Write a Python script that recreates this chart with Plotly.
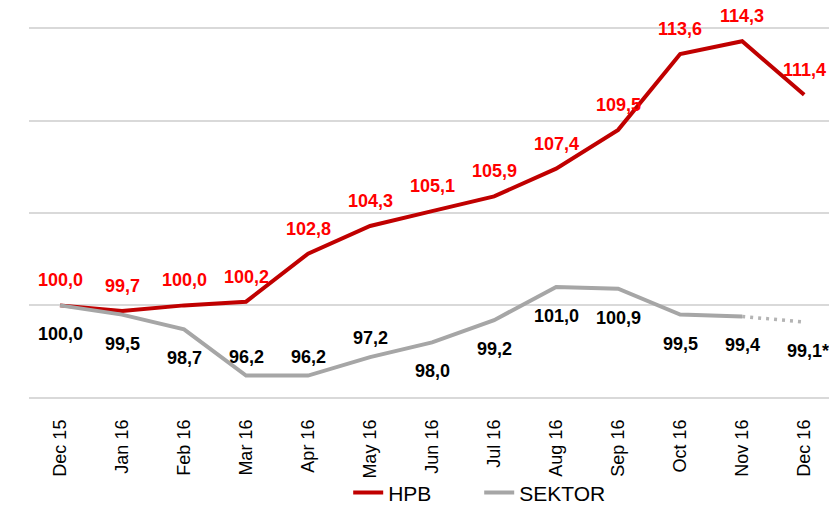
import plotly.graph_objects as go

# data
months = ["Dec 15", "Jan 16", "Feb 16", "Mar 16", "Apr 16", "May 16", "Jun 16",
          "Jul 16", "Aug 16", "Sep 16", "Oct 16", "Nov 16", "Dec 16"]
hpb = [100.0, 99.7, 100.0, 100.2, 102.8, 104.3, 105.1, 105.9, 107.4, 109.5, 113.6, 114.3, 111.4]
sektor = [100.0, 99.5, 98.7, 96.2, 96.2, 97.2, 98.0, 99.2, 101.0, 100.9, 99.5, 99.4, 99.1]
# where the SEKTOR labels sit: below the line, except three above it
sektor_side = ["below", "below", "below", "above", "above", "above", "below",
               "below", "below", "below", "below", "below", "below"]

RED_LINE = "#C00000"
RED_TEXT = "#FF0000"
GREY = "#A6A6A6"
FONT = "Arial, Liberation Sans, sans-serif"

def fmt(v):
    return f"{v:.1f}".replace(".", ",")

fig = go.Figure()

fig.add_trace(go.Scatter(x=months, y=hpb, mode="lines", name="HPB",
                         line=dict(color=RED_LINE, width=4)))
# solid sector line up to Nov 16
fig.add_trace(go.Scatter(x=months[:-1], y=sektor[:-1], mode="lines", name="SEKTOR",
                         line=dict(color=GREY, width=4)))
# dotted estimate for Dec 16
fig.add_trace(go.Scatter(x=months[-2:], y=sektor[-2:], mode="lines", showlegend=False,
                         line=dict(color="#B4B4B4", width=3.5, dash="3px,5px")))

annots = []
for i, m in enumerate(months):
    annots.append(dict(x=m, y=hpb[i], text=fmt(hpb[i]), showarrow=False, yshift=25,
                       font=dict(family=FONT, size=18, color=RED_TEXT, weight="bold")))
    txt = fmt(sektor[i]) + ("*" if i == len(months) - 1 else "")
    shift = -29 if sektor_side[i] == "below" else 19
    annots.append(dict(x=m, y=sektor[i], text=txt, showarrow=False, yshift=shift,
                       xshift=4 if txt.endswith("*") else 0,
                       font=dict(family=FONT, size=18, color="black", weight="bold")))

fig.update_layout(
    width=829, height=506,
    margin=dict(l=29, r=0, t=19, b=99, autoexpand=False),
    plot_bgcolor="white", paper_bgcolor="white",
    font=dict(family=FONT, color="black"),
    showlegend=True,
    legend=dict(orientation="h", x=0.399, xanchor="left", yref="container",
                y=0.026, yanchor="middle", font=dict(size=21), entrywidth=86,
                bgcolor="rgba(0,0,0,0)"),
    annotations=annots,
    hovermode=False,
)
fig.update_xaxes(type="category", range=[-0.5, 12.4], tickangle=-90,
                 tickfont=dict(size=18), showgrid=False, showline=False,
                 ticks="", ticklabelstandoff=8, automargin=False)
fig.update_yaxes(range=[94.5, 115.5], tickvals=[95, 100, 105, 110, 115],
                 showticklabels=False, showgrid=True, automargin=False,
                 gridcolor="#D9D9D9", gridwidth=1.5, zeroline=False)

fig.write_html("out.html", config={"displayModeBar": False},
               post_script="document.body.style.margin='0';")
